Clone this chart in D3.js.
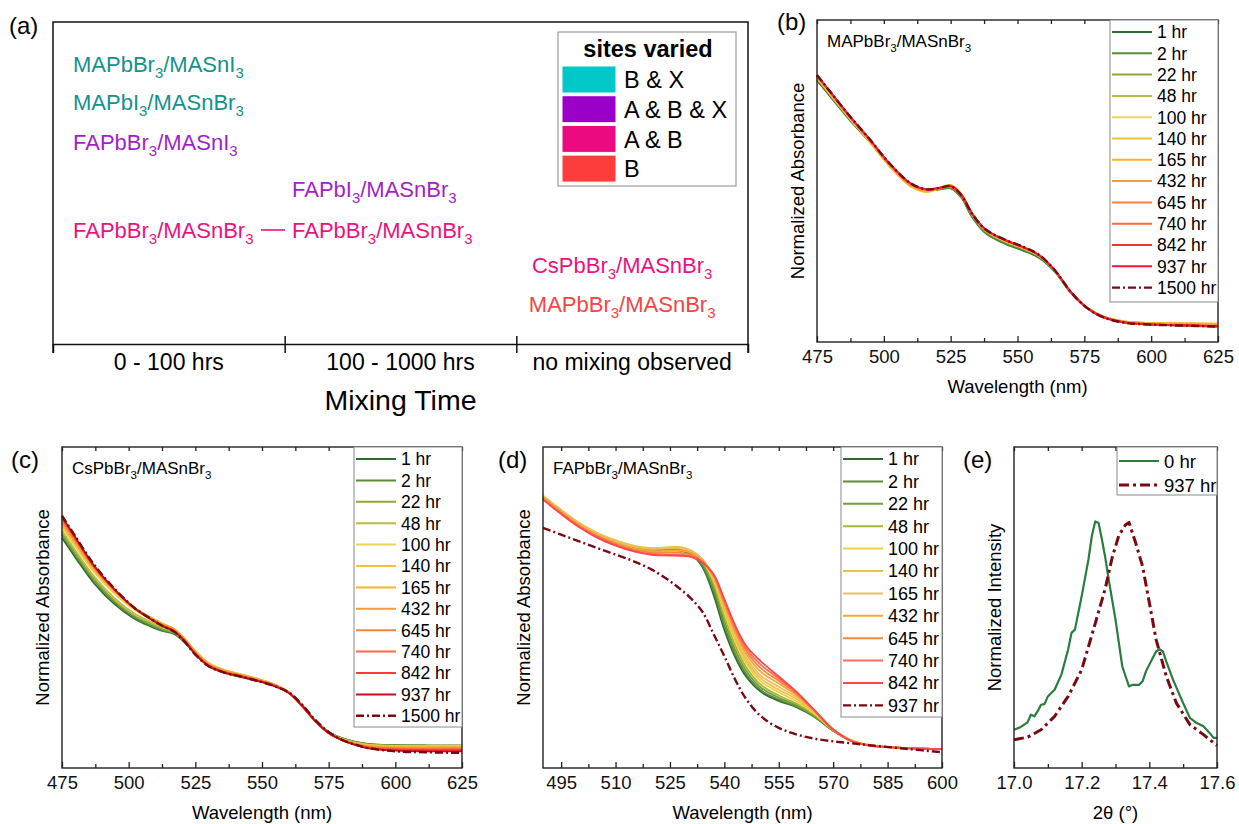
<!DOCTYPE html>
<html>
<head>
<meta charset="utf-8">
<script src="https://cdn.jsdelivr.net/npm/d3@7"></script>
<style>
  body { margin: 0; background: #fff; }
  svg { font-family: "Liberation Sans", Arial, sans-serif; }
</style>
</head>
<body>
<svg id="fig" width="1239" height="824"></svg>
<script>
// ---------- panel (a): mixing time overview ----------
const mixingBins = ["0 - 100 hrs", "100 - 1000 hrs", "no mixing observed"];
const siteLabels = ["B & X", "A & B & X", "A & B", "B"];
const siteFill = ["#00c8c8", "#9a00c8", "#ec0a80", "#ff3c3c"];
const siteText = ["#14918c", "#a21fc8", "#ea1280", "#f44444"];
const pairNames = ["MAPbBr3/MASnI3", "MAPbI3/MASnBr3", "FAPbBr3/MASnI3", "FAPbI3/MASnBr3",
                   "FAPbBr3/MASnBr3", "FAPbBr3/MASnBr3", "CsPbBr3/MASnBr3", "MAPbBr3/MASnBr3"];
const pairBin = [0, 0, 0, 1, 0, 1, 2, 2];
const pairSite = [0, 0, 1, 1, 2, 2, 2, 3];

// ---------- panels (b)-(d): absorbance spectra ----------
const hoursLong = ["1 hr", "2 hr", "22 hr", "48 hr", "100 hr", "140 hr", "165 hr", "432 hr", "645 hr", "740 hr", "842 hr", "937 hr", "1500 hr"];
const hoursShort = ["1 hr", "2 hr", "22 hr", "48 hr", "100 hr", "140 hr", "165 hr", "432 hr", "645 hr", "740 hr", "842 hr", "937 hr"];
const coloursB = ["#2f6b2f", "#5b8c34", "#8da935", "#b9bd40", "#ead35c", "#ebc238", "#f3b42a", "#f29c40", "#f8843e", "#ff6844", "#ff2e2e", "#ff1439", "#7a0a12"];
const coloursC = ["#2f6b2f", "#5b8c34", "#8da935", "#b9bd40", "#ead35c", "#ebc238", "#f3b42a", "#f29c40", "#f8843e", "#ff6844", "#ff3a3a", "#c40e18", "#7a0a12"];
const coloursD = ["#2f6b2f", "#5b8c34", "#6e9e3e", "#a9b62e", "#edd046", "#e8c445", "#f0bb66", "#f0a838", "#f8873a", "#ff6a5e", "#ff4848", "#7a0a12"];

const wlB = [475, 480, 487, 495, 502, 510, 516, 521, 525, 529, 533, 538, 545, 552, 558, 564, 570, 576, 582, 590, 600, 612, 625];
const absB = [
  [0.812, 0.762, 0.692, 0.618, 0.551, 0.490, 0.472, 0.474, 0.477, 0.448, 0.388, 0.338, 0.306, 0.284, 0.262, 0.218, 0.152, 0.105, 0.077, 0.060, 0.054, 0.051, 0.048],
  [0.814, 0.764, 0.694, 0.620, 0.552, 0.491, 0.472, 0.475, 0.478, 0.450, 0.390, 0.340, 0.308, 0.286, 0.264, 0.219, 0.153, 0.105, 0.077, 0.060, 0.054, 0.051, 0.048],
  [0.818, 0.767, 0.697, 0.621, 0.551, 0.489, 0.470, 0.476, 0.481, 0.453, 0.394, 0.344, 0.312, 0.290, 0.267, 0.221, 0.154, 0.106, 0.078, 0.061, 0.056, 0.054, 0.052],
  [0.820, 0.768, 0.697, 0.620, 0.549, 0.486, 0.468, 0.477, 0.484, 0.456, 0.397, 0.347, 0.314, 0.292, 0.268, 0.222, 0.155, 0.107, 0.079, 0.063, 0.058, 0.056, 0.055],
  [0.822, 0.769, 0.697, 0.619, 0.547, 0.484, 0.466, 0.478, 0.487, 0.459, 0.399, 0.348, 0.315, 0.292, 0.268, 0.222, 0.155, 0.107, 0.080, 0.064, 0.059, 0.058, 0.057],
  [0.823, 0.770, 0.698, 0.619, 0.547, 0.484, 0.466, 0.479, 0.488, 0.460, 0.400, 0.349, 0.316, 0.293, 0.269, 0.222, 0.155, 0.107, 0.080, 0.064, 0.059, 0.058, 0.057],
  [0.824, 0.771, 0.699, 0.620, 0.548, 0.485, 0.467, 0.479, 0.487, 0.459, 0.400, 0.349, 0.316, 0.293, 0.269, 0.222, 0.155, 0.107, 0.080, 0.064, 0.059, 0.058, 0.056],
  [0.825, 0.773, 0.701, 0.622, 0.551, 0.488, 0.470, 0.478, 0.485, 0.458, 0.400, 0.349, 0.317, 0.294, 0.270, 0.222, 0.155, 0.107, 0.079, 0.062, 0.057, 0.055, 0.053],
  [0.826, 0.774, 0.702, 0.624, 0.553, 0.490, 0.472, 0.478, 0.484, 0.457, 0.399, 0.349, 0.317, 0.294, 0.270, 0.222, 0.155, 0.106, 0.078, 0.061, 0.055, 0.052, 0.050],
  [0.827, 0.775, 0.703, 0.625, 0.554, 0.491, 0.473, 0.478, 0.484, 0.457, 0.399, 0.349, 0.318, 0.295, 0.270, 0.222, 0.155, 0.106, 0.078, 0.061, 0.055, 0.052, 0.049],
  [0.828, 0.776, 0.703, 0.626, 0.555, 0.492, 0.474, 0.479, 0.484, 0.457, 0.399, 0.349, 0.318, 0.295, 0.270, 0.222, 0.155, 0.106, 0.078, 0.061, 0.055, 0.052, 0.049],
  [0.829, 0.777, 0.704, 0.627, 0.556, 0.493, 0.474, 0.479, 0.484, 0.457, 0.399, 0.350, 0.318, 0.295, 0.270, 0.222, 0.155, 0.106, 0.077, 0.061, 0.055, 0.052, 0.049],
  [0.829, 0.777, 0.704, 0.627, 0.556, 0.493, 0.474, 0.479, 0.484, 0.456, 0.398, 0.350, 0.319, 0.296, 0.271, 0.223, 0.155, 0.106, 0.077, 0.060, 0.054, 0.051, 0.048]
];

const wlC = [475, 480, 487, 495, 502, 508, 513, 517, 521, 525, 530, 536, 542, 548, 554, 560, 565, 570, 575, 580, 585, 590, 600, 612, 625];
const absC = [
  [0.717, 0.656, 0.576, 0.508, 0.466, 0.442, 0.426, 0.418, 0.392, 0.356, 0.318, 0.296, 0.284, 0.272, 0.259, 0.236, 0.196, 0.148, 0.112, 0.093, 0.081, 0.074, 0.071, 0.070, 0.070],
  [0.727, 0.665, 0.584, 0.514, 0.470, 0.445, 0.428, 0.419, 0.392, 0.355, 0.318, 0.296, 0.284, 0.272, 0.259, 0.236, 0.196, 0.148, 0.112, 0.093, 0.081, 0.074, 0.071, 0.070, 0.070],
  [0.732, 0.670, 0.589, 0.519, 0.475, 0.450, 0.432, 0.422, 0.394, 0.357, 0.320, 0.298, 0.286, 0.274, 0.260, 0.236, 0.195, 0.147, 0.111, 0.092, 0.080, 0.073, 0.070, 0.070, 0.070],
  [0.740, 0.678, 0.597, 0.527, 0.482, 0.456, 0.437, 0.426, 0.397, 0.360, 0.323, 0.301, 0.288, 0.276, 0.261, 0.236, 0.194, 0.146, 0.110, 0.091, 0.079, 0.072, 0.069, 0.069, 0.069],
  [0.751, 0.690, 0.610, 0.540, 0.494, 0.466, 0.446, 0.432, 0.402, 0.364, 0.327, 0.305, 0.292, 0.279, 0.263, 0.237, 0.193, 0.145, 0.109, 0.090, 0.078, 0.071, 0.068, 0.068, 0.068],
  [0.758, 0.697, 0.617, 0.546, 0.499, 0.470, 0.449, 0.434, 0.403, 0.365, 0.327, 0.305, 0.292, 0.279, 0.263, 0.237, 0.193, 0.145, 0.109, 0.089, 0.077, 0.070, 0.067, 0.067, 0.067],
  [0.763, 0.701, 0.620, 0.549, 0.500, 0.470, 0.448, 0.433, 0.402, 0.363, 0.325, 0.304, 0.291, 0.278, 0.262, 0.236, 0.193, 0.145, 0.109, 0.089, 0.076, 0.069, 0.066, 0.065, 0.065],
  [0.768, 0.705, 0.622, 0.550, 0.499, 0.468, 0.446, 0.431, 0.400, 0.361, 0.323, 0.302, 0.290, 0.277, 0.261, 0.236, 0.193, 0.145, 0.109, 0.088, 0.075, 0.067, 0.063, 0.062, 0.062],
  [0.773, 0.709, 0.625, 0.551, 0.499, 0.467, 0.444, 0.429, 0.398, 0.359, 0.321, 0.300, 0.288, 0.275, 0.260, 0.235, 0.193, 0.145, 0.109, 0.088, 0.074, 0.066, 0.062, 0.061, 0.061],
  [0.776, 0.712, 0.627, 0.552, 0.499, 0.466, 0.443, 0.428, 0.397, 0.357, 0.320, 0.299, 0.287, 0.274, 0.259, 0.235, 0.193, 0.145, 0.109, 0.087, 0.073, 0.064, 0.060, 0.059, 0.059],
  [0.780, 0.716, 0.629, 0.553, 0.499, 0.466, 0.442, 0.427, 0.396, 0.356, 0.319, 0.298, 0.286, 0.273, 0.258, 0.234, 0.194, 0.146, 0.109, 0.087, 0.072, 0.062, 0.057, 0.056, 0.056],
  [0.783, 0.719, 0.631, 0.554, 0.499, 0.465, 0.441, 0.426, 0.395, 0.354, 0.318, 0.297, 0.285, 0.272, 0.257, 0.234, 0.194, 0.146, 0.109, 0.087, 0.072, 0.061, 0.054, 0.052, 0.052],
  [0.786, 0.722, 0.634, 0.556, 0.500, 0.466, 0.441, 0.425, 0.393, 0.353, 0.317, 0.297, 0.285, 0.272, 0.257, 0.236, 0.198, 0.150, 0.112, 0.088, 0.073, 0.062, 0.052, 0.049, 0.047]
];

const wlD = [490, 495, 500, 505, 510, 515, 520, 525, 528, 531, 534, 537, 540, 543, 546, 550, 555, 560, 565, 570, 575, 580, 590, 600];
const absD = [
  [0.842, 0.798, 0.757, 0.726, 0.703, 0.686, 0.678, 0.678, 0.677, 0.664, 0.625, 0.540, 0.430, 0.345, 0.285, 0.238, 0.209, 0.189, 0.158, 0.116, 0.085, 0.071, 0.062, 0.059],
  [0.843, 0.799, 0.758, 0.727, 0.704, 0.687, 0.679, 0.679, 0.678, 0.666, 0.630, 0.552, 0.443, 0.355, 0.293, 0.243, 0.213, 0.191, 0.159, 0.116, 0.085, 0.071, 0.062, 0.059],
  [0.845, 0.801, 0.760, 0.729, 0.706, 0.689, 0.681, 0.681, 0.680, 0.668, 0.636, 0.565, 0.458, 0.368, 0.303, 0.251, 0.219, 0.195, 0.161, 0.117, 0.085, 0.071, 0.062, 0.059],
  [0.846, 0.802, 0.761, 0.730, 0.707, 0.690, 0.683, 0.684, 0.683, 0.671, 0.641, 0.576, 0.472, 0.382, 0.314, 0.260, 0.226, 0.200, 0.164, 0.118, 0.086, 0.071, 0.062, 0.059],
  [0.848, 0.804, 0.763, 0.732, 0.709, 0.692, 0.685, 0.687, 0.686, 0.675, 0.646, 0.585, 0.485, 0.396, 0.326, 0.270, 0.236, 0.207, 0.168, 0.119, 0.086, 0.071, 0.062, 0.059],
  [0.848, 0.804, 0.763, 0.732, 0.709, 0.692, 0.685, 0.688, 0.688, 0.677, 0.649, 0.591, 0.494, 0.405, 0.335, 0.279, 0.244, 0.214, 0.171, 0.120, 0.086, 0.071, 0.062, 0.059],
  [0.846, 0.802, 0.761, 0.730, 0.707, 0.690, 0.683, 0.686, 0.686, 0.676, 0.650, 0.596, 0.502, 0.415, 0.345, 0.288, 0.253, 0.220, 0.173, 0.120, 0.085, 0.071, 0.062, 0.059],
  [0.843, 0.799, 0.758, 0.726, 0.702, 0.684, 0.676, 0.677, 0.677, 0.670, 0.646, 0.598, 0.510, 0.424, 0.356, 0.300, 0.263, 0.226, 0.175, 0.120, 0.085, 0.071, 0.062, 0.059],
  [0.840, 0.795, 0.754, 0.722, 0.698, 0.680, 0.671, 0.671, 0.670, 0.664, 0.643, 0.600, 0.516, 0.432, 0.365, 0.311, 0.272, 0.230, 0.177, 0.120, 0.085, 0.071, 0.062, 0.059],
  [0.838, 0.793, 0.752, 0.720, 0.696, 0.677, 0.667, 0.665, 0.664, 0.659, 0.641, 0.602, 0.521, 0.438, 0.373, 0.322, 0.279, 0.233, 0.178, 0.120, 0.084, 0.070, 0.062, 0.059],
  [0.836, 0.791, 0.750, 0.717, 0.693, 0.675, 0.664, 0.662, 0.661, 0.657, 0.640, 0.604, 0.526, 0.444, 0.381, 0.333, 0.285, 0.236, 0.178, 0.120, 0.084, 0.070, 0.062, 0.059],
  [0.748, 0.727, 0.706, 0.685, 0.665, 0.644, 0.618, 0.582, 0.556, 0.526, 0.486, 0.418, 0.348, 0.275, 0.215, 0.162, 0.125, 0.104, 0.091, 0.083, 0.077, 0.071, 0.060, 0.049]
];

// ---------- panel (e): XRD peak ----------
const xrdLabels = ["0 hr", "937 hr"];
const xrdColours = ["#2a7d3e", "#7a0a12"];
const theta0 = [17.00, 17.02, 17.04, 17.05, 17.06, 17.07, 17.08, 17.09, 17.10, 17.12, 17.14, 17.16, 17.17, 17.18, 17.20, 17.22, 17.23, 17.24, 17.25, 17.26, 17.27, 17.28,
                17.30, 17.32, 17.33, 17.34, 17.35, 17.37, 17.38, 17.39, 17.41, 17.42, 17.43, 17.44, 17.45, 17.47, 17.50, 17.52, 17.54, 17.56, 17.58, 17.59, 17.60];
const int0 = [0.119, 0.128, 0.142, 0.166, 0.161, 0.177, 0.197, 0.199, 0.223, 0.244, 0.291, 0.369, 0.421, 0.431, 0.535, 0.649, 0.722, 0.768, 0.763, 0.711, 0.654, 0.587,
              0.462, 0.317, 0.285, 0.254, 0.259, 0.259, 0.270, 0.301, 0.343, 0.363, 0.370, 0.363, 0.332, 0.275, 0.202, 0.156, 0.140, 0.130, 0.107, 0.094, 0.094];
const theta937 = [17.00, 17.04, 17.08, 17.12, 17.16, 17.20, 17.24, 17.27, 17.29, 17.31, 17.33, 17.34, 17.36, 17.38, 17.40, 17.42, 17.45, 17.48, 17.52, 17.56, 17.60];
const int937 = [0.088, 0.096, 0.119, 0.161, 0.223, 0.306, 0.450, 0.560, 0.655, 0.725, 0.758, 0.765, 0.700, 0.628, 0.515, 0.400, 0.286, 0.202, 0.135, 0.104, 0.070];

const svg = d3.select("#fig");
const DASHDOT = "8,3,2,3";

// writes chemical formulas with the digits as subscripts
function formula(text, str, fs) {
  let low = false;
  str.split(/(\d+)/).filter(s => s.length).forEach(p => {
    const t = text.append("tspan").text(p);
    if (/^\d+$/.test(p)) {
      t.attr("font-size", fs * 0.68).attr("dy", fs * 0.28);
      low = true;
    } else if (low) {
      t.attr("dy", -fs * 0.28);
      low = false;
    }
  });
}

function panelLabel(txt, x, y) {
  svg.append("text").attr("x", x).attr("y", y).attr("font-size", 24).text(txt);
}

// ---------- draw (a) ----------
(function() {
  const left = 53, right = 748, top = 22, axisY = 344;
  const bx = d3.scaleLinear().domain([0, mixingBins.length]).range([left, right]);
  const g = svg.append("g");

  g.append("path")
    .attr("d", `M${left},${axisY + 9}V${top}H${right}V${axisY + 9}`)
    .attr("fill", "none").attr("stroke", "#111").attr("stroke-width", 1.5);

  const axis = g.append("g")
    .attr("transform", `translate(0,${axisY})`)
    .call(d3.axisBottom(bx).tickValues([1, 2]).tickSize(9).tickFormat(""));
  axis.select(".domain").attr("stroke", "#111").attr("stroke-width", 1.5);
  axis.selectAll(".tick line").attr("y1", -8).attr("stroke", "#111").attr("stroke-width", 1.5);

  g.selectAll(".binlabel").data(mixingBins).join("text")
    .attr("x", (d, i) => bx(i + 0.5))
    .attr("y", 370)
    .attr("text-anchor", "middle")
    .attr("font-size", 23)
    .text(d => d);

  g.append("text").attr("x", bx(1.5)).attr("y", 410)
    .attr("text-anchor", "middle").attr("font-size", 28.5).text("Mixing Time");

  // compound pairs
  const pairY = [72, 110, 150, 197, 238, 238, 273, 312];
  const fs = 22;
  pairNames.forEach((name, i) => {
    const b = pairBin[i];
    const t = g.append("text")
      .attr("y", pairY[i])
      .attr("font-size", fs)
      .attr("fill", siteText[pairSite[i]]);
    if (b < 2) t.attr("x", b === 0 ? 73 : 292);
    else t.attr("x", bx(b + 0.5) - 10).attr("text-anchor", "middle");
    formula(t, name, fs);
  });
  // dash linking the same pair across bins
  g.append("line").attr("x1", 261).attr("x2", 285).attr("y1", 230).attr("y2", 230)
    .attr("stroke", siteText[2]).attr("stroke-width", 1.6);

  // legend
  const lg = g.append("g");
  lg.append("rect").attr("x", 558).attr("y", 32).attr("width", 178).attr("height", 154)
    .attr("fill", "#fff").attr("stroke", "#8a8a8a").attr("stroke-width", 1);
  lg.append("text").attr("x", 648).attr("y", 57).attr("text-anchor", "middle")
    .attr("font-size", 23.5).attr("font-weight", "bold").text("sites varied");
  const row = lg.selectAll(".srow").data(siteLabels).join("g")
    .attr("transform", (d, i) => `translate(562,${66 + i * 29.7})`);
  row.append("rect").attr("width", 54).attr("height", 27)
    .attr("fill", (d, i) => siteFill[i]).attr("stroke", "#fff").attr("stroke-width", 1);
  row.append("text").attr("x", 62).attr("y", 13.5).attr("dy", "0.37em")
    .attr("font-size", 23.5).text(d => d);
})();

// ---------- spectra panels ----------
function linePanel(cfg) {
  const g = svg.append("g");
  const x = d3.scaleLinear().domain(cfg.xDomain).range([cfg.left, cfg.right]);
  const y = d3.scaleLinear().domain([0, 1]).range([cfg.bottom, cfg.top]);
  const line = d3.line().x(d => x(d[0])).y(d => y(d[1])).curve(cfg.curve || d3.curveCatmullRom.alpha(0.5));

  cfg.series.forEach((s, i) => {
    g.append("path")
      .datum(s.xs.map((v, j) => [v, s.ys[j]]))
      .attr("fill", "none")
      .attr("stroke", cfg.colours[i])
      .attr("stroke-width", s.dashed ? cfg.dashWidth || 2.4 : cfg.lineWidth || 1.8)
      .attr("stroke-dasharray", s.dashed ? cfg.dash || DASHDOT : null)
      .attr("stroke-linejoin", "round")
      .attr("d", line);
  });

  // frame and ticks (inward, Origin style)
  g.append("rect").attr("x", cfg.left).attr("y", cfg.top)
    .attr("width", cfg.right - cfg.left).attr("height", cfg.bottom - cfg.top)
    .attr("fill", "none").attr("stroke", "#222").attr("stroke-width", 1.4);

  const bottomAxis = g.append("g").attr("transform", `translate(0,${cfg.bottom})`)
    .call(d3.axisBottom(x).tickValues(cfg.major).tickSize(-6).tickPadding(8).tickFormat(cfg.fmt || d3.format("d")));
  g.append("g").attr("transform", `translate(0,${cfg.bottom})`)
    .call(d3.axisBottom(x).tickValues(cfg.minor).tickSize(-4).tickFormat(""));
  g.append("g").attr("transform", `translate(0,${cfg.top})`)
    .call(d3.axisTop(x).tickValues(cfg.major.concat(cfg.minor)).tickSize(-4).tickFormat(""));
  g.selectAll(".domain").remove();
  g.selectAll(".tick line").attr("stroke", "#222").attr("stroke-width", 1.3);
  bottomAxis.selectAll("text").attr("font-size", 18.5).attr("fill", "#111")
    .attr("font-family", "'Liberation Sans', Arial, sans-serif");

  g.append("text").attr("x", (cfg.left + cfg.right) / 2).attr("y", cfg.bottom + 51)
    .attr("text-anchor", "middle").attr("font-size", 18.5).text(cfg.xTitle);
  g.append("text")
    .attr("transform", `translate(${cfg.left - 13},${(cfg.top + cfg.bottom) / 2}) rotate(-90)`)
    .attr("text-anchor", "middle").attr("font-size", 18.5).text(cfg.yTitle);

  if (cfg.note) {
    const t = g.append("text").attr("x", cfg.left + 10).attr("y", cfg.top + 27).attr("font-size", 17);
    formula(t, cfg.note, 17);
  }

  // legend
  const L = cfg.legend;
  const lg = g.append("g");
  lg.append("rect").attr("x", L.x).attr("y", cfg.top)
    .attr("width", cfg.right - L.x).attr("height", L.bottom - cfg.top)
    .attr("fill", "#fff").attr("stroke", "#8a8a8a").attr("stroke-width", 1);
  const rows = lg.selectAll(".lrow").data(cfg.names).join("g")
    .attr("transform", (d, i) => `translate(${L.x},${L.first + i * L.step})`);
  rows.append("line").attr("x1", 2).attr("x2", L.len)
    .attr("stroke", (d, i) => cfg.colours[i])
    .attr("stroke-width", (d, i) => cfg.series[i].dashed ? cfg.dashWidth || 2.4 : 2)
    .attr("stroke-dasharray", (d, i) => cfg.series[i].dashed ? cfg.dash || DASHDOT : null);
  rows.append("text").attr("x", L.len + 5).attr("dy", "0.36em")
    .attr("font-size", L.fs).text(d => d);
}

const range = (a, b, s) => d3.range(a, b + s / 2, s);

linePanel({
  left: 817, right: 1218, top: 20, bottom: 342,
  xDomain: [475, 625], major: range(475, 625, 25), minor: range(487.5, 612.5, 25),
  series: absB.map((ys, i) => ({ xs: wlB, ys, dashed: i === absB.length - 1 })),
  colours: coloursB, names: hoursLong,
  xTitle: "Wavelength (nm)", yTitle: "Normalized Absorbance", note: "MAPbBr3/MASnBr3",
  legend: { x: 1110, bottom: 302, first: 32, step: 21.3, len: 42, fs: 17.5 }
});

linePanel({
  left: 62, right: 462, top: 447, bottom: 768,
  xDomain: [475, 625], major: range(475, 625, 25), minor: range(487.5, 612.5, 25),
  series: absC.map((ys, i) => ({ xs: wlC, ys, dashed: i === absC.length - 1 })),
  colours: coloursC, names: hoursLong,
  xTitle: "Wavelength (nm)", yTitle: "Normalized Absorbance", note: "CsPbBr3/MASnBr3",
  legend: { x: 354, bottom: 727, first: 459, step: 21.4, len: 42, fs: 17.5 }
});

linePanel({
  left: 543, right: 942, top: 447, bottom: 768,
  xDomain: [490, 600], major: range(495, 600, 15), minor: range(502.5, 592.5, 15),
  series: absD.map((ys, i) => ({ xs: wlD, ys, dashed: i === absD.length - 1 })),
  colours: coloursD, names: hoursShort,
  xTitle: "Wavelength (nm)", yTitle: "Normalized Absorbance", note: "FAPbBr3/MASnBr3",
  legend: { x: 841, bottom: 717, first: 459, step: 22.4, len: 42, fs: 18 }
});

linePanel({
  left: 1014, right: 1217, top: 447, bottom: 768,
  xDomain: [17.0, 17.6], major: range(17.0, 17.6, 0.2), minor: range(17.1, 17.5, 0.2),
  fmt: d3.format(".1f"), curve: d3.curveLinear,
  series: [{ xs: theta0, ys: int0 }, { xs: theta937, ys: int937, dashed: true }],
  colours: xrdColours, names: xrdLabels, lineWidth: 2.2, dashWidth: 3, dash: "10,4,3,4",
  xTitle: "2θ (°)", yTitle: "Normalized Intensity",
  legend: { x: 1117, bottom: 495, first: 461, step: 24, len: 42, fs: 18.5 }
});

panelLabel("(a)", 9, 34);
panelLabel("(b)", 777, 30);
panelLabel("(c)", 11, 468);
panelLabel("(d)", 498, 468);
panelLabel("(e)", 963, 468);
</script>
</body>
</html>
